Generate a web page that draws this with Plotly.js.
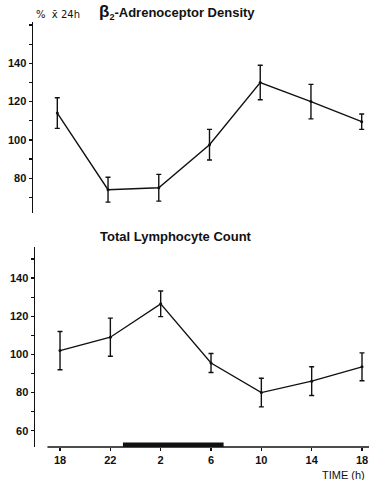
<!DOCTYPE html>
<html>
<head>
<meta charset="utf-8">
<script src="https://cdn.plot.ly/plotly-3.0.1.min.js"></script>
<style>html,body{margin:0;padding:0;background:#fff;}#chart{width:369px;height:480px;}</style>
</head>
<body>
<div id="chart"></div>
<script>
// Sampling times (clock hour)
const timeLabels = ["18", "22", "2", "6", "10", "14", "18"];
// Beta2-adrenoceptor density (% of 24h mean)
const b2Density = [114, 74, 75, 97.5, 130, 120, 109.5];
const b2Error = [8, 6.5, 7, 8, 9, 9, 4];
// Total lymphocyte count (% of 24h mean)
const lymphCount = [102, 109, 126.5, 95.5, 80, 86, 93.5];
const lymphError = [10, 10, 6.7, 5, 7.5, 7.5, 7.3];
// Night (sleep) period, clock hours
const nightHours = [23, 7];

const xIdx = timeLabels.map((_, i) => i);
const hourToIdx = h => ((h - 18 + 24) % 24) / 4;

const fontTick = {family: "Liberation Sans, Arial, sans-serif", size: 11, color: "#111", weight: "bold"};

const traceCommon = {
  type: "scatter", mode: "lines+markers",
  line: {color: "#111", width: 1.4},
  marker: {color: "#111", size: 3},
  hoverinfo: "skip"
};

const traces = [
  Object.assign({}, traceCommon, {
    x: xIdx, y: b2Density, xaxis: "x", yaxis: "y",
    error_y: {type: "data", array: b2Error, visible: true, color: "#111", thickness: 1.4, width: 2.5}
  }),
  Object.assign({}, traceCommon, {
    x: xIdx, y: lymphCount, xaxis: "x2", yaxis: "y2",
    error_y: {type: "data", array: lymphError, visible: true, color: "#111", thickness: 1.4, width: 2.5}
  })
];

const layout = {
  width: 369, height: 480,
  margin: {l: 33, r: 0, t: 22, b: 32.7},
  paper_bgcolor: "#fff", plot_bgcolor: "#fff",
  showlegend: false,
  xaxis: {
    domain: [0, 1], anchor: "y", range: [-0.479, 6.144],
    showline: false, showticklabels: false, ticks: "", showgrid: false, zeroline: false
  },
  yaxis: {
    domain: [0.551, 1], anchor: "x", range: [61.9, 161.6],
    showline: true, linecolor: "#111", linewidth: 1.5,
    tickvals: [80, 100, 120, 140], ticks: "outside", ticklen: 3, tickwidth: 1.2, tickcolor: "#111",
    minor: {tickvals: [70, 90, 110, 130, 150, 160], ticks: "outside", ticklen: 3, tickwidth: 1.2, tickcolor: "#111", showgrid: false},
    showgrid: false, zeroline: false, tickfont: fontTick, ticklabelstandoff: 0
  },
  xaxis2: {
    domain: [0.006, 1], anchor: "y2", range: [-0.497, 6.139],
    tickvals: xIdx, ticktext: timeLabels, ticklabeloverflow: "allow",
    showline: false, ticks: "outside", ticklen: 3, tickwidth: 1.2, tickcolor: "#111",
    showgrid: false, zeroline: false, tickfont: fontTick
  },
  yaxis2: {
    domain: [0, 0.4717], anchor: "x2", range: [51.5, 156.5],
    showline: true, linecolor: "#111", linewidth: 1.5,
    tickvals: [60, 80, 100, 120, 140], ticks: "outside", ticklen: 3, tickwidth: 1.2, tickcolor: "#111",
    minor: {tickvals: [70, 90, 110, 130, 150], ticks: "outside", ticklen: 3, tickwidth: 1.2, tickcolor: "#111", showgrid: false},
    showgrid: false, zeroline: false, tickfont: fontTick, ticklabelstandoff: 0
  },
  shapes: [
    {type: "line", xref: "x2", yref: "y2 domain", x0: -0.25, x1: 6.139, y0: 0, y1: 0,
     line: {color: "#111", width: 1.4}},
    {type: "rect", xref: "x2", yref: "y2 domain",
     x0: hourToIdx(nightHours[0]), x1: hourToIdx(nightHours[1]), y0: 0, y1: 0.023,
     fillcolor: "#111", line: {width: 0}}
  ],
  annotations: [
    {xref: "paper", yref: "paper", x: 0.003, y: 1.0, xanchor: "left", yanchor: "bottom",
     text: "%  x̄ 24h", showarrow: false,
     font: {family: "DejaVu Sans, sans-serif", size: 10, color: "#111"}},
    {xref: "x", yref: "paper", x: 2.35, y: 0.995, xanchor: "center", yanchor: "bottom",
     text: "<b><span style='font-size:17px'>β</span><sub>2</sub>-Adrenoceptor Density</b>", showarrow: false,
     font: {family: "Liberation Sans, Arial, sans-serif", size: 13, color: "#111"}},
    {xref: "x2", yref: "paper", x: 2.3, y: 0.472, xanchor: "center", yanchor: "bottom",
     text: "<b>Total Lymphocyte Count</b>", showarrow: false,
     font: {family: "Liberation Sans, Arial, sans-serif", size: 13, color: "#111"}},
    {xref: "paper", yref: "paper", x: 0.995, y: -0.048, xanchor: "right", yanchor: "top",
     text: "TIME (h)", showarrow: false,
     font: {family: "Liberation Sans, Arial, sans-serif", size: 11, color: "#111"}}
  ]
};

Plotly.newPlot("chart", traces, layout, {displayModeBar: false, staticPlot: true});
</script>
</body>
</html>
